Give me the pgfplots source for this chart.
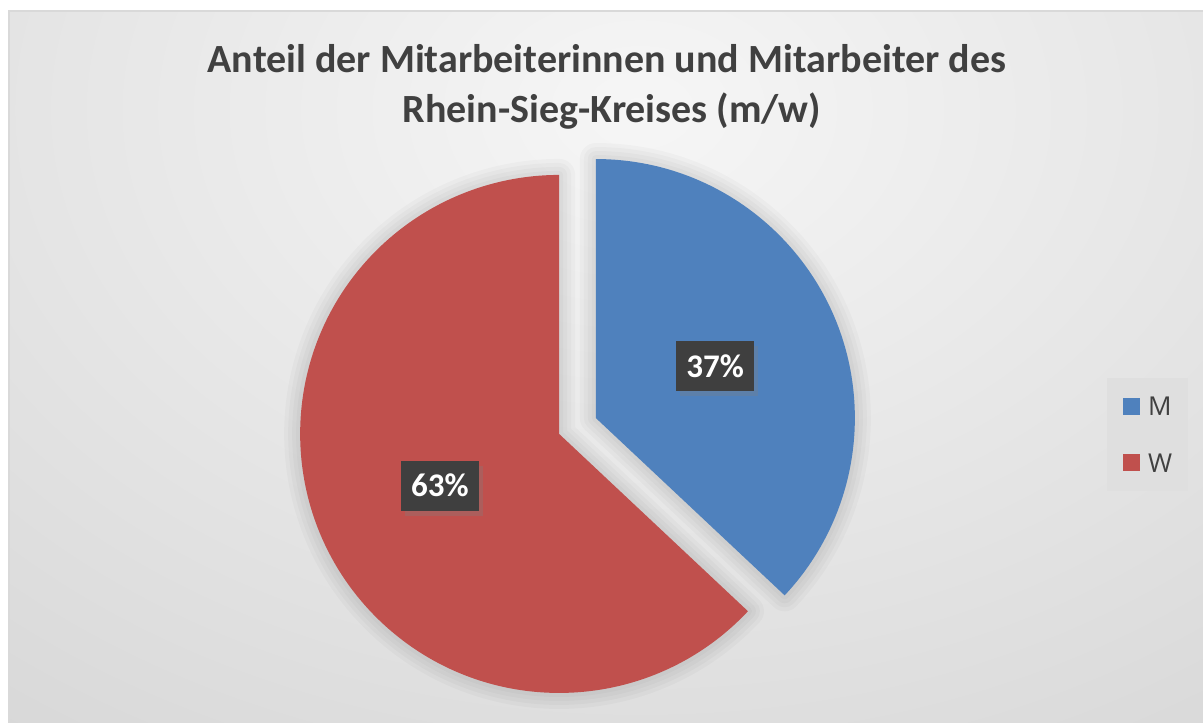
\documentclass[border=0pt]{standalone}
\usepackage{pgfplots}
\pgfplotsset{compat=1.18}
\usepackage{pgfplotstable}
\usepackage{fontspec}
\setmainfont{Carlito}
\newfontfamily\legendfont{Open Sans}
\usetikzlibrary{shadows}
\definecolor{sliceM}{HTML}{4F81BD}
\definecolor{sliceW}{HTML}{C0504D}
\definecolor{txt}{HTML}{404040}
\definecolor{lblbox}{HTML}{3F3F3F}
\definecolor{bgin}{HTML}{F6F6F6}
\definecolor{bgout}{HTML}{BEBEBE}
\definecolor{legbg}{HTML}{DFDFDF}
\definecolor{framec}{HTML}{D9D9D9}

\pgfplotstableread{
label value
M 37
W 63
}\piedata

\begin{document}
\begin{tikzpicture}
\pgfplotstablegetelem{0}{value}\of\piedata \pgfmathsetmacro\vM{\pgfplotsretval}
\pgfplotstablegetelem{1}{value}\of\piedata \pgfmathsetmacro\vW{\pgfplotsretval}
\pgfmathsetmacro\tot{\vM+\vW}
\pgfmathsetmacro\endM{90-360*\vM/\tot}
\pgfmathsetmacro\midM{(90+\endM)/2}
\pgfmathsetmacro\midW{(\endM-270)/2}
\pgfmathtruncatemacro\pM{round(100*\vM/\tot)}
\pgfmathtruncatemacro\pW{round(100*\vW/\tot)}
\useasboundingbox (0,0) rectangle (601.5pt,361pt);
\begin{axis}[
  at={(0,0)}, anchor=origin,
  x=0.5pt, y=0.5pt,
  xmin=0, xmax=1203, ymin=0, ymax=722,
  hide axis, clip=false,
  legend style={at={(axis description cs:0.9202,0.4765)}, anchor=north west,
    fill=legbg, draw=none, text=txt,
    font=\legendfont\fontsize{13}{15}\selectfont,
    nodes={inner sep=0pt, text depth=0pt},
    inner xsep=8pt, inner ysep=9.4pt, row sep=18.9pt,
    /tikz/every odd column/.append style={column sep=4pt}},
  legend cell align=left,
]
% background
\fill[white] (axis cs:0,0) rectangle (axis cs:1203,722);
\begin{scope}
\clip (axis cs:8,0) rectangle (axis cs:1203,711);
\shade[inner color=bgin, outer color=bgout] (axis cs:640,612) ellipse[x radius=1000pt, y radius=720pt];
\end{scope}
\draw[framec, line width=1pt] (axis cs:8.5,-5) -- (axis cs:8.5,710.5) -- (axis cs:1210,710.5);
% slice centres (exploded)
\path (axis cs:577.5,296) ++(\midM:10pt) coordinate (cM);
\path (axis cs:577.5,296) ++(\midW:10pt) coordinate (cW);
% soft shadows
\pgfplotsinvokeforeach{16,12,8,4}{
  \draw[black, opacity=0.025, line width=#1pt, line join=round]
    (cM) -- ++(90:129.5pt) arc[start angle=90, end angle=\endM, radius=129.5pt] -- cycle;
  \draw[black, opacity=0.025, line width=#1pt, line join=round]
    (cW) -- ++(\endM:129.5pt) arc[start angle=\endM, end angle=-270, radius=129.5pt] -- cycle;
}
% slices
\fill[sliceM] (cM) -- ++(90:129.5pt) arc[start angle=90, end angle=\endM, radius=129.5pt] -- cycle;
\fill[sliceW] (cW) -- ++(\endM:129.5pt) arc[start angle=\endM, end angle=-270, radius=129.5pt] -- cycle;
% data labels
\path (cM) ++(\midM:65pt) node[fill=lblbox, text=white, font=\bfseries\fontsize{16.5}{18}\selectfont,
  minimum width=39pt, minimum height=25pt, inner sep=0pt,
  drop shadow={shadow xshift=2pt, shadow yshift=-2.5pt, opacity=0.3}] {\pM\%};
\path (cW) ++(\midW:65pt) node[fill=lblbox, text=white, font=\bfseries\fontsize{16.5}{18}\selectfont,
  minimum width=39pt, minimum height=25pt, inner sep=0pt,
  drop shadow={shadow xshift=2pt, shadow yshift=-2.5pt, opacity=0.3}] {\pW\%};
% title
\node[anchor=base, text=txt, font=\bfseries\fontsize{20}{24}\selectfont] at (axis cs:607,649) {Anteil der Mitarbeiterinnen und Mitarbeiter des};
\node[anchor=base, text=txt, font=\bfseries\fontsize{20}{24}\selectfont] at (axis cs:612,599) {Rhein-Sieg-Kreises (m/w)};
% legend
\addlegendimage{legend image code/.code={\fill[sliceM] (0pt,-4pt) rectangle (8pt,4pt);}}
\addlegendentry{M}
\addlegendimage{legend image code/.code={\fill[sliceW] (0pt,-4pt) rectangle (8pt,4pt);}}
\addlegendentry{W}
\end{axis}
\end{tikzpicture}
\end{document}
